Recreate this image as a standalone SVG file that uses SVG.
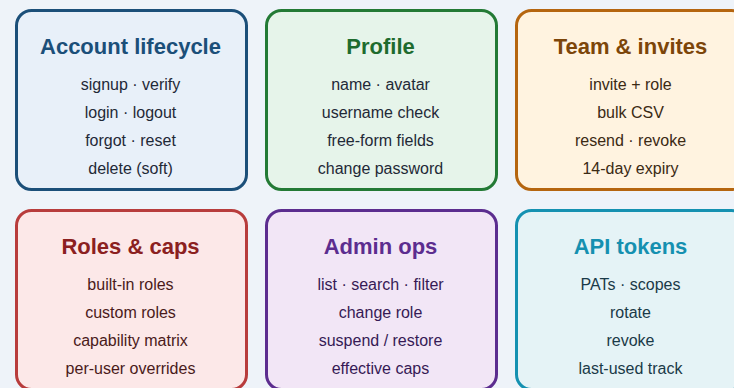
<svg xmlns="http://www.w3.org/2000/svg" width="734" height="388" viewBox="0 0 734 388">
<style>
.card{stroke-width:3}
.t{font-family:"Liberation Sans",Arial,sans-serif;font-size:22px;font-weight:bold;text-anchor:middle}
.b{font-family:"Liberation Sans",Arial,sans-serif;font-size:16px;text-anchor:middle}
</style>
<rect width="734" height="388" fill="#eef3f9"/>
<g id="account">
<rect class="card" x="16.5" y="10.5" width="230" height="179" rx="15" fill="#e8f0f9" stroke="#1b4f79"/>
<text class="t" x="130.5" y="54" fill="#1b4f79">Account lifecycle</text>
<g class="b" fill="#1f2937">
<text x="130.5" y="90">signup · verify</text>
<text x="130.5" y="118">login · logout</text>
<text x="130.5" y="146">forgot · reset</text>
<text x="130.5" y="174">delete (soft)</text>
</g>
</g>
<g id="profile">
<rect class="card" x="266.5" y="10.5" width="230" height="179" rx="15" fill="#e6f4ea" stroke="#237a35"/>
<text class="t" x="380.5" y="54" fill="#1e6b2e">Profile</text>
<g class="b" fill="#1f2937">
<text x="380.5" y="90">name · avatar</text>
<text x="380.5" y="118">username check</text>
<text x="380.5" y="146">free-form fields</text>
<text x="380.5" y="174">change password</text>
</g>
</g>
<g id="team">
<rect class="card" x="516.5" y="10.5" width="230" height="179" rx="15" fill="#fff3e0" stroke="#b5650f"/>
<text class="t" x="630.5" y="54" fill="#7c4509">Team &amp; invites</text>
<g class="b" fill="#3b2a14">
<text x="630.5" y="90">invite + role</text>
<text x="630.5" y="118">bulk CSV</text>
<text x="630.5" y="146">resend · revoke</text>
<text x="630.5" y="174">14-day expiry</text>
</g>
</g>
<g id="roles">
<rect class="card" x="16.5" y="210.5" width="230" height="179" rx="15" fill="#fce8e8" stroke="#b83c3c"/>
<text class="t" x="130.5" y="254" fill="#8b2020">Roles &amp; caps</text>
<g class="b" fill="#4a1a1a">
<text x="130.5" y="290">built-in roles</text>
<text x="130.5" y="318">custom roles</text>
<text x="130.5" y="346">capability matrix</text>
<text x="130.5" y="374">per-user overrides</text>
</g>
</g>
<g id="admin">
<rect class="card" x="266.5" y="210.5" width="230" height="179" rx="15" fill="#f2e6f6" stroke="#5c2d8f"/>
<text class="t" x="380.5" y="254" fill="#5c2d8f">Admin ops</text>
<g class="b" fill="#361a55">
<text x="380.5" y="290">list · search · filter</text>
<text x="380.5" y="318">change role</text>
<text x="380.5" y="346">suspend / restore</text>
<text x="380.5" y="374">effective caps</text>
</g>
</g>
<g id="api">
<rect class="card" x="516.5" y="210.5" width="230" height="179" rx="15" fill="#e5f3f6" stroke="#1591b1"/>
<text class="t" x="630.5" y="254" fill="#1590b0">API tokens</text>
<g class="b" fill="#1a3a48">
<text x="630.5" y="290">PATs · scopes</text>
<text x="630.5" y="318">rotate</text>
<text x="630.5" y="346">revoke</text>
<text x="630.5" y="374">last-used track</text>
</g>
</g>
<g id="connectors"/>
</svg>
